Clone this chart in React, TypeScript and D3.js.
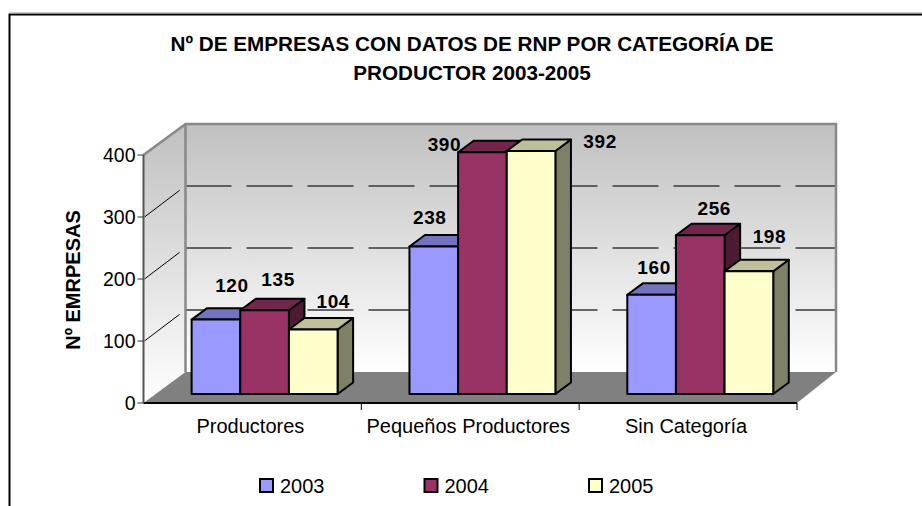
import React from "react";
import * as d3 from "d3";

// ---------- data ----------
const categories = ["Productores", "Pequeños Productores", "Sin Categoría"];
const seriesNames = ["2003", "2004", "2005"];
const values2003 = [120, 238, 160];
const values2004 = [135, 390, 256];
const values2005 = [104, 392, 198];
const yTicks = [0, 100, 200, 300, 400];
const titleLines = [
  "Nº DE EMPRESAS CON DATOS DE RNP POR CATEGORÍA DE",
  "PRODUCTOR 2003-2005",
];
const yAxisTitle = "Nº EMRPESAS";

// ---------- styles / layout ----------
const seriesColors = ["#9999FF", "#993366", "#FFFFCC"];
// label nudges (Excel moves some labels aside), per series, per category
const labelNudgeX = [
  [4, -16, -9.5],
  [1.5, -50, 2],
  [8, 57, 8.5],
];
const labelNudgeY = [
  [-5, 1, 2],
  [-1, 22, 3],
  [1, 20, -5],
];

const W = 922;
const H = 506;
const X0 = 143.5;
const X1 = 797;
const Y0 = 403;
const YTOP = 155;
const DX = 42;
const DY = -31;
const BAR_D0 = 0.29;
const BAR_D1 = 0.66;
const FONT = "'Liberation Sans', Arial, Helvetica, sans-serif";

export default function App() {
  const seriesValues = [values2003, values2004, values2005];
  const y = d3.scaleLinear().domain([0, 400]).range([Y0, YTOP]);
  const xBand = d3
    .scaleBand<string>()
    .domain(categories)
    .range([X0, X1])
    .paddingInner(0.33)
    .paddingOuter(0.165);
  const xSub = d3
    .scaleBand<string>()
    .domain(seriesNames)
    .range([0, xBand.bandwidth()])
    .padding(0);
  const step = xBand.step();
  const catStart = (i: number) => X0 + i * step;

  const legendX = d3.scalePoint<string>().domain(seriesNames).range([260, 589]);

  const backL = X0 + DX;
  const backR = X1 + DX - 3;
  const backTop = y(400) + DY;
  const backBot = y(0) + DY;

  const ddx = (BAR_D1 - BAR_D0) * DX;
  const ddy = (BAR_D1 - BAR_D0) * DY;
  const offX = BAR_D0 * DX;
  const offY = BAR_D0 * DY;

  const pts = (arr: number[][]) => arr.map((p) => p.join(",")).join(" ");

  const bars: React.ReactNode[] = [];
  const labels: React.ReactNode[] = [];
  categories.forEach((cat, ci) => {
    seriesNames.forEach((s, si) => {
      const v = seriesValues[si][ci];
      const L = (xBand(cat) as number) + (xSub(s) as number) + offX;
      const w = xSub.bandwidth();
      const B = y(0) + offY;
      const T = y(v) + offY;
      const col = d3.color(seriesColors[si]) as d3.RGBColor;
      const topCol = d3.rgb(col.r * 0.75, col.g * 0.75, col.b * 0.75).formatHex();
      const sideCol = d3.rgb(col.r * 0.5, col.g * 0.5, col.b * 0.5).formatHex();
      bars.push(
        <g key={`b-${ci}-${si}`} stroke="#000" strokeWidth={2} strokeLinejoin="round">
          <polygon
            points={pts([
              [L + w, T],
              [L + w + ddx, T + ddy],
              [L + w + ddx, B + ddy],
              [L + w, B],
            ])}
            fill={sideCol}
          />
          <polygon
            points={pts([
              [L, T],
              [L + w, T],
              [L + w + ddx, T + ddy],
              [L + ddx, T + ddy],
            ])}
            fill={topCol}
          />
          <rect x={L} y={T} width={w} height={B - T} fill={seriesColors[si]} />
        </g>
      );
      labels.push(
        <text
          key={`l-${ci}-${si}`}
          x={L + w / 2 + 12 + labelNudgeX[si][ci]}
          y={T - 23 + labelNudgeY[si][ci]}
          textAnchor="middle"
          fontFamily={FONT}
          fontWeight="bold"
          fontSize={19}
          letterSpacing={0.6}
          fill="#000"
        >
          {v}
        </text>
      );
    });
  });

  return (
    <svg
      width={W}
      height={H}
      style={{ position: "absolute", left: 0, top: 0, background: "#fff" }}
    >
      <defs>
        <linearGradient id="wallGrad" x1="0" y1="0" x2="0" y2="1">
          <stop offset="0" stopColor="#c0c0c0" />
          <stop offset="1" stopColor="#ffffff" />
        </linearGradient>
      </defs>

      {/* outer border */}
      <path d={`M9.5,${H} V14.5 H${W}`} fill="none" stroke="#000" strokeWidth={2} />
      <line x1={9} x2={W} y1={13} y2={13} stroke="#999" strokeWidth={1} />

      {/* title */}
      {titleLines.map((t, i) => (
        <text
          key={t}
          x={472}
          y={51 + i * 28.5}
          textAnchor="middle"
          fontFamily={FONT}
          fontWeight="bold"
          fontSize={20.7}
          fill="#000"
        >
          {t}
        </text>
      ))}

      {/* back wall */}
      <rect
        x={backL}
        y={backTop}
        width={backR - backL}
        height={backBot - backTop}
        fill="url(#wallGrad)"
      />
      {/* left wall */}
      <polygon
        points={pts([
          [X0, y(0)],
          [X0, y(400)],
          [backL, backTop],
          [backL, backBot],
        ])}
        fill="url(#wallGrad)"
      />
      {/* floor */}
      <polygon
        points={pts([
          [X0, y(0)],
          [X1, y(0)],
          [backR, backBot],
          [backL, backBot],
        ])}
        fill="#808080"
      />

      {/* back wall gridlines */}
      {yTicks
        .filter((t) => t > 0 && t < 400)
        .map((t) => (
          <line
            key={`g-${t}`}
            x1={backL}
            x2={backR}
            y1={y(t) + DY}
            y2={y(t) + DY}
            stroke="#3a3a3a"
            strokeWidth={1.3}
            strokeDasharray="46 15"
          />
        ))}
      {/* left wall gridlines */}
      {yTicks
        .filter((t) => t > 0 && t < 400)
        .map((t) => (
          <line
            key={`lg-${t}`}
            x1={X0 + 1}
            y1={y(t)}
            x2={X0 + DX * 0.86}
            y2={y(t) + DY * 0.86}
            stroke="#000"
            strokeWidth={1}
          />
        ))}

      {/* wall edges */}
      <path
        d={`M${X0},${y(400)} L${backL},${backTop} H${backR} V${backBot}`}
        fill="none"
        stroke="#888"
        strokeWidth={2.5}
      />
      <line x1={backL} x2={backL} y1={backTop} y2={backBot} stroke="#888" strokeWidth={2.5} />

      {/* bars */}
      {bars}

      {/* x axis front edge */}
      <line x1={X0} x2={X1} y1={y(0)} y2={y(0)} stroke="#000" strokeWidth={2} />
      {categories.map((c, i) => (
        <line
          key={`xt-${i}`}
          x1={catStart(i + 1)}
          x2={catStart(i + 1)}
          y1={y(0)}
          y2={y(0) + 7}
          stroke="#000"
          strokeWidth={1}
        />
      ))}
      {/* y axis */}
      <line x1={X0} x2={X0} y1={y(400)} y2={y(0)} stroke="#555" strokeWidth={2} />
      {yTicks.map((t) => (
        <g key={`yt-${t}`}>
          <line x1={X0 - 6} x2={X0} y1={y(t)} y2={y(t)} stroke="#333" strokeWidth={1} />
          <text
            x={X0 - 8}
            y={y(t) + 7}
            textAnchor="end"
            fontFamily={FONT}
            fontSize={19.5}
            fill="#000"
          >
            {t}
          </text>
        </g>
      ))}

      {/* value labels */}
      {labels}

      {/* category labels */}
      {categories.map((c, i) => (
        <text
          key={`c-${i}`}
          x={catStart(i) + step / 2 - 2}
          y={433}
          textAnchor="middle"
          fontFamily={FONT}
          fontSize={20}
          fill="#000"
        >
          {c}
        </text>
      ))}

      {/* y axis title */}
      <text
        transform={`translate(80,280) rotate(-90)`}
        textAnchor="middle"
        fontFamily={FONT}
        fontWeight="bold"
        fontSize={20}
        fill="#000"
      >
        {yAxisTitle}
      </text>

      {/* legend */}
      {seriesNames.map((s, i) => (
        <g key={`lg-${s}`}>
          <rect
            x={legendX(s) as number}
            y={479}
            width={13}
            height={13}
            fill={seriesColors[i]}
            stroke="#000"
            strokeWidth={2}
          />
          <text
            x={(legendX(s) as number) + 20}
            y={492.5}
            fontFamily={FONT}
            fontSize={20}
            fill="#000"
          >
            {s}
          </text>
        </g>
      ))}
    </svg>
  );
}
